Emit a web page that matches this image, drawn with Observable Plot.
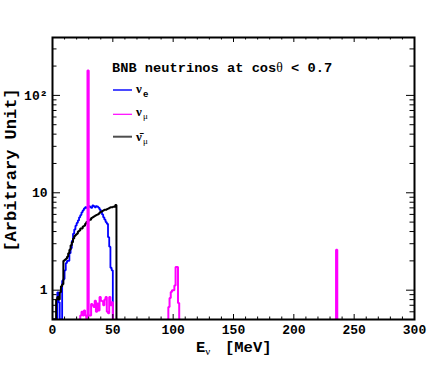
<!DOCTYPE html>
<html><head><meta charset="utf-8">
<script src="https://cdn.jsdelivr.net/npm/d3@7"></script>
<script src="https://cdn.jsdelivr.net/npm/@observablehq/plot@0.6"></script>
<style>body{margin:0;background:#fff}#chart{position:relative;width:436px;height:375px}</style>
</head><body><div id="chart"></div>
<script>
// ---- data ----
const binWidth = 1; // MeV
const xDomain = [0, 300];
const yDomain = [0.5, 393];
const xTickValues = [0, 50, 100, 150, 200, 250, 300];
const yTickValues = [1, 10, 100];
const yTickLabels = ["1", "10", "10²"];

// nu_e, bins of 1 MeV starting at 0 MeV
const nueStart = 0;
const nue = [0,0,0,0,0.95,0.75,0.4,0.4,1.25,1.3,1.6,1.9,2.0,2.0,2.4,2.7,3.2,3.8,4.2,4.6,4.9,5.2,5.6,5.9,6.3,6.6,6.9,7.1,7.0,7.2,7.3,7.1,7.0,7.4,7.3,7.1,7.3,7.2,7.0,6.7,6.4,6.0,5.6,5.3,5.0,4.8,3.5,2.8,1.7,1.6,0];

// anti-nu_mu, bins of 1 MeV starting at 0 MeV
const numubarStart = 0;
const numubar = [0,0,0.5,0.8,0.85,0.8,0.95,1.1,1.15,2.0,2.05,2.1,2.2,2.4,2.6,2.9,3.1,3.4,3.6,3.7,3.8,4.0,4.1,4.3,4.3,4.5,4.6,4.8,5.0,5.1,5.3,5.3,5.5,5.6,5.7,5.8,5.9,6.0,6.1,6.3,6.4,6.5,6.6,6.7,6.7,6.8,6.9,7.0,7.1,7.1,7.2,7.2,7.5,0];

// nu_mu, three populated regions (1 MeV bins)
const numuLowStart = 22;
const numuLow = [0,0.55,0.6,0.55,0.62,0.55,0,180,0.55,0.55,0.72,0.7,0.67,0.78,0.6,0.73,0.62,0.85,0.78,0.77,0.7,0.8,0.85,0.6,0.58,0.85,0.7,0.75,0];
const numuBumpStart = 95;
const numuBump = [0,0.67,0.83,0.96,1.0,1.0,1.12,1.73,1.73,0.74,0];
const numuKaonStart = 234;
const numuKaon = [0,2.6,0];

// ---- build step paths ----
function steps(start, vals, seg) {
  const pts = vals.map((v, i) => ({x: start + i * binWidth, v, seg}));
  pts.push({x: start + vals.length * binWidth, v: vals[vals.length - 1], seg});
  return pts;
}
const nueSteps = steps(nueStart, nue, "e");
const numubarSteps = steps(numubarStart, numubar, "mb");
const numuSteps = [
  ...steps(numuLowStart, numuLow, "low"),
  ...steps(numuBumpStart, numuBump, "bump"),
  ...steps(numuKaonStart, numuKaon, "kaon")
];
const yv = d => Math.max(d.v, yDomain[0]);

const W = 436, H = 375, mL = 52, mR = 22, mT = 37, mB = 56;
const innerW = W - mL - mR, innerH = H - mT - mB;

const xMinor = d3.range(10, 300, 10).filter(d => d % 50 !== 0);
const yMinor = [];
for (const dec of [0.1, 1, 10, 100]) for (let k = 2; k <= 9; k++) {
  const v = +(k * dec).toFixed(3);
  if (v >= yDomain[0] && v <= yDomain[1]) yMinor.push(v);
}

const mono = "'Liberation Mono','Courier New',monospace";
const serif = "'Liberation Serif','Times New Roman',serif";
const lineOpts = {x: "x", y: yv, curve: "step-after", clip: true, strokeLinejoin: "miter", strokeLinecap: "butt"};

const plot = Plot.plot({
  width: W, height: H,
  marginLeft: mL, marginRight: mR, marginTop: mT, marginBottom: mB,
  style: {fontFamily: mono, fontSize: "13px", fontWeight: "bold", background: "white", overflow: "visible"},
  x: {domain: xDomain},
  y: {type: "log", domain: yDomain},
  marks: [
    Plot.line(nueSteps, {...lineOpts, stroke: "#0000ff", strokeWidth: 1.8}),
    Plot.line(numubarSteps, {...lineOpts, stroke: "#000000", strokeWidth: 2}),
    Plot.line(numuSteps, {...lineOpts, z: "seg", stroke: "#ff00ff", strokeWidth: 2}),
    Plot.tickX(xTickValues, {x: d => d, insetTop: innerH - 5, stroke: "black"}),
    Plot.tickX(xTickValues, {x: d => d, insetBottom: innerH - 5, stroke: "black"}),
    Plot.tickX(xMinor, {x: d => d, insetTop: innerH - 2.5, stroke: "black"}),
    Plot.tickX(xMinor, {x: d => d, insetBottom: innerH - 2.5, stroke: "black"}),
    Plot.tickY(yTickValues, {y: d => d, insetRight: innerW - 8, stroke: "black"}),
    Plot.tickY(yTickValues, {y: d => d, insetLeft: innerW - 8, stroke: "black"}),
    Plot.tickY(yMinor, {y: d => d, insetRight: innerW - 4.5, stroke: "black"}),
    Plot.tickY(yMinor, {y: d => d, insetLeft: innerW - 4.5, stroke: "black"}),
    Plot.frame({stroke: "black", strokeWidth: 2}),
    Plot.axisX({ticks: xTickValues, tickSize: 0, tickPadding: 5, label: null, fontFamily: mono, fontWeight: "bold", fontSize: 13, tickFormat: d => String(d)}),
    Plot.axisY({ticks: yTickValues, tickSize: 0, tickPadding: 5, label: null, fontFamily: mono, fontWeight: "bold", fontSize: 13,
      tickFormat: d => yTickLabels[yTickValues.indexOf(d)]})
  ]
});
document.getElementById("chart").appendChild(plot);

// ---- annotations: axis titles, legend ----
const svg = d3.select(plot);
const g = svg.append("g").attr("fill", "black").attr("text-anchor", "start");

// y axis title
g.append("text").attr("transform", "translate(16,170) rotate(-90)")
  .attr("text-anchor", "middle").attr("font-family", mono).attr("font-weight", "bold")
  .attr("font-size", 17).text("[Arbitrary Unit]");

// x axis title
const xl = g.append("text").attr("x", 196).attr("y", 352)
  .attr("font-family", mono).attr("font-weight", "bold").attr("font-size", 15.5);
xl.append("tspan").text("E");
xl.append("tspan").attr("font-family", serif).attr("font-weight", "normal").attr("font-size", 11).attr("dy", 3).text("ν");
g.append("text").attr("x", 225).attr("y", 352)
  .attr("font-family", mono).attr("font-weight", "bold").attr("font-size", 15.5).text("[MeV]");

// legend header
const lt = g.append("text").attr("x", 112).attr("y", 72)
  .attr("font-family", mono).attr("font-weight", "bold").attr("font-size", 13.7);
lt.append("tspan").text("BNB neutrinos at cos");
lt.append("tspan").attr("font-family", serif).attr("font-weight", "normal").text("θ");
lt.append("tspan").text(" < 0.7");

const legend = [
  {y: 90, color: "#4a4aff", w: 2, nu: "ν", sub: "e", subFont: mono, subBold: true, base: 92.5, subBase: 97},
  {y: 114.3, color: "#ff00ff", w: 1.2, nu: "ν", sub: "μ", subFont: serif, subBold: false, base: 115.5, subBase: 119},
  {y: 136.7, color: "#4d4d4d", w: 2, nu: "ν̄", sub: "μ", subFont: serif, subBold: false, base: 141, subBase: 144}
];
for (const e of legend) {
  g.append("line").attr("x1", 113).attr("x2", 132).attr("y1", e.y).attr("y2", e.y)
    .attr("stroke", e.color).attr("stroke-width", e.w);
  g.append("text").attr("x", 136).attr("y", e.base).attr("font-family", serif)
    .attr("font-size", 13).text(e.nu);
  g.append("text").attr("x", 143).attr("y", e.subBase).attr("font-family", e.subFont)
    .attr("font-weight", e.subBold ? "bold" : "normal").attr("font-size", 9).text(e.sub);
}
</script>
</body></html>
